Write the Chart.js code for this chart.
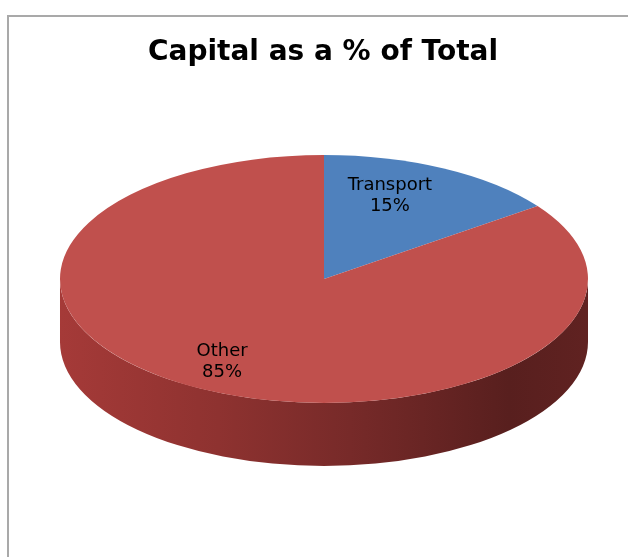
<!DOCTYPE html>
<html>
<head>
<meta charset="utf-8">
<script src="https://cdn.jsdelivr.net/npm/chart.js@4/dist/chart.umd.min.js"></script>
<style>
  html, body { margin: 0; padding: 0; background: #fff; overflow: hidden; }
  #frame { position: absolute; left: 7px; top: 15px; width: 700px; height: 700px;
           border-left: 2px solid #a9a9a9; border-top: 2px solid #a9a9a9; }
  #wrap { position: absolute; left: 0; top: 0; width: 628px; height: 557px; }
</style>
</head>
<body>
<div id="frame"></div>
<div id="wrap"><canvas id="c" width="628" height="557"></canvas></div>
<script>
// Capital spending split
const categories = ['Transport', 'Other'];
const shares = [15, 85];
const sliceColors = ['#4f81bd', '#c0504d'];
const chartTitle = 'Capital as a % of Total';

// How the pie is viewed: a tilted disc with a visible rim
const disc = { cx: 324, cy: 279, rx: 264, ry: 124, depth: 63 };
const labelStyle = { fraction: 0.75, nudgeX: [-24, -12], lineGap: 21,
                     font: '18px "DejaVu Sans", Verdana, sans-serif' };

function hexRgb(h) {
  const n = parseInt(h.slice(1), 16);
  return [(n >> 16) & 255, (n >> 8) & 255, n & 255];
}

// Map the library's circular arc geometry onto the tilted disc
function discTransform(ctx, base, arc, dy) {
  ctx.setTransform(base);
  ctx.translate(disc.cx, disc.cy + dy);
  ctx.scale(disc.rx / arc.outerRadius, disc.ry / arc.outerRadius);
  ctx.translate(-arc.x, -arc.y);
}

// Rim shading: lit from the left, falling into shadow on the right
function rimGradient(ctx, color) {
  const [r, g, b] = hexRgb(color);
  const grad = ctx.createLinearGradient(disc.cx - disc.rx, 0, disc.cx + disc.rx, 0);
  [[0, 0.86], [0.3, 0.74], [0.55, 0.62], [0.85, 0.46], [1, 0.5]].forEach(([t, f]) => {
    grad.addColorStop(t, `rgb(${Math.round(r * f)},${Math.round(g * f * 0.85)},${Math.round(b * f * 0.85)})`);
  });
  return grad;
}

// Parts of an angular span that face the viewer (lower half of the disc)
function frontSpans(a0, a1) {
  const spans = [];
  for (const off of [-2 * Math.PI, 0, 2 * Math.PI]) {
    const s = Math.max(a0 + off, 0), e = Math.min(a1 + off, Math.PI);
    if (e > s) spans.push([s, e]);
  }
  return spans;
}

const tiltedPie = {
  id: 'tiltedPie',
  beforeDatasetsDraw(chart) {
    const ctx = chart.ctx;
    const arcs = chart.getDatasetMeta(0).data;
    const colors = chart.data.datasets[0].backgroundColor;
    const base = ctx.getTransform();
    ctx.save();
    // rim
    arcs.forEach((arc, i) => {
      frontSpans(arc.startAngle, arc.endAngle).forEach(([s, e]) => {
        ctx.beginPath();
        discTransform(ctx, base, arc, 0);
        ctx.arc(arc.x, arc.y, arc.outerRadius, s, e);
        discTransform(ctx, base, arc, disc.depth);
        ctx.arc(arc.x, arc.y, arc.outerRadius, e, s, true);
        ctx.closePath();
        ctx.setTransform(base);
        ctx.fillStyle = rimGradient(ctx, colors[i]);
        ctx.fill();
      });
    });
    // top face
    arcs.forEach(arc => {
      ctx.save();
      discTransform(ctx, base, arc, 0);
      arc.draw(ctx);
      ctx.restore();
    });
    ctx.setTransform(base);
    ctx.restore();
    return false;
  },
  afterDraw(chart) {
    const ctx = chart.ctx;
    const arcs = chart.getDatasetMeta(0).data;
    const total = shares.reduce((a, b) => a + b, 0);
    ctx.save();
    ctx.font = labelStyle.font;
    ctx.fillStyle = '#000';
    ctx.textAlign = 'center';
    ctx.textBaseline = 'middle';
    arcs.forEach((arc, i) => {
      const mid = (arc.startAngle + arc.endAngle) / 2;
      const x = disc.cx + disc.rx * labelStyle.fraction * Math.cos(mid) + labelStyle.nudgeX[i];
      const y = disc.cy + disc.ry * labelStyle.fraction * Math.sin(mid);
      ctx.fillText(categories[i], x, y - labelStyle.lineGap / 2);
      ctx.fillText(Math.round(shares[i] / total * 100) + '%', x, y + labelStyle.lineGap / 2);
    });
    ctx.restore();
  }
};

new Chart(document.getElementById('c'), {
  type: 'pie',
  data: {
    labels: categories,
    datasets: [{ data: shares, backgroundColor: sliceColors, borderWidth: 0 }]
  },
  options: {
    responsive: false,
    animation: false,
    devicePixelRatio: 1,
    layout: { padding: { left: 18, right: 0, top: 0, bottom: 0 } },
    plugins: {
      legend: { display: false },
      tooltip: { enabled: false },
      title: {
        display: true,
        text: chartTitle,
        color: '#000',
        font: { family: '"DejaVu Sans", Verdana, sans-serif', size: 28, weight: 'bold' },
        padding: { top: 36, bottom: 10 }
      }
    }
  },
  plugins: [tiltedPie]
});
</script>
</body>
</html>
